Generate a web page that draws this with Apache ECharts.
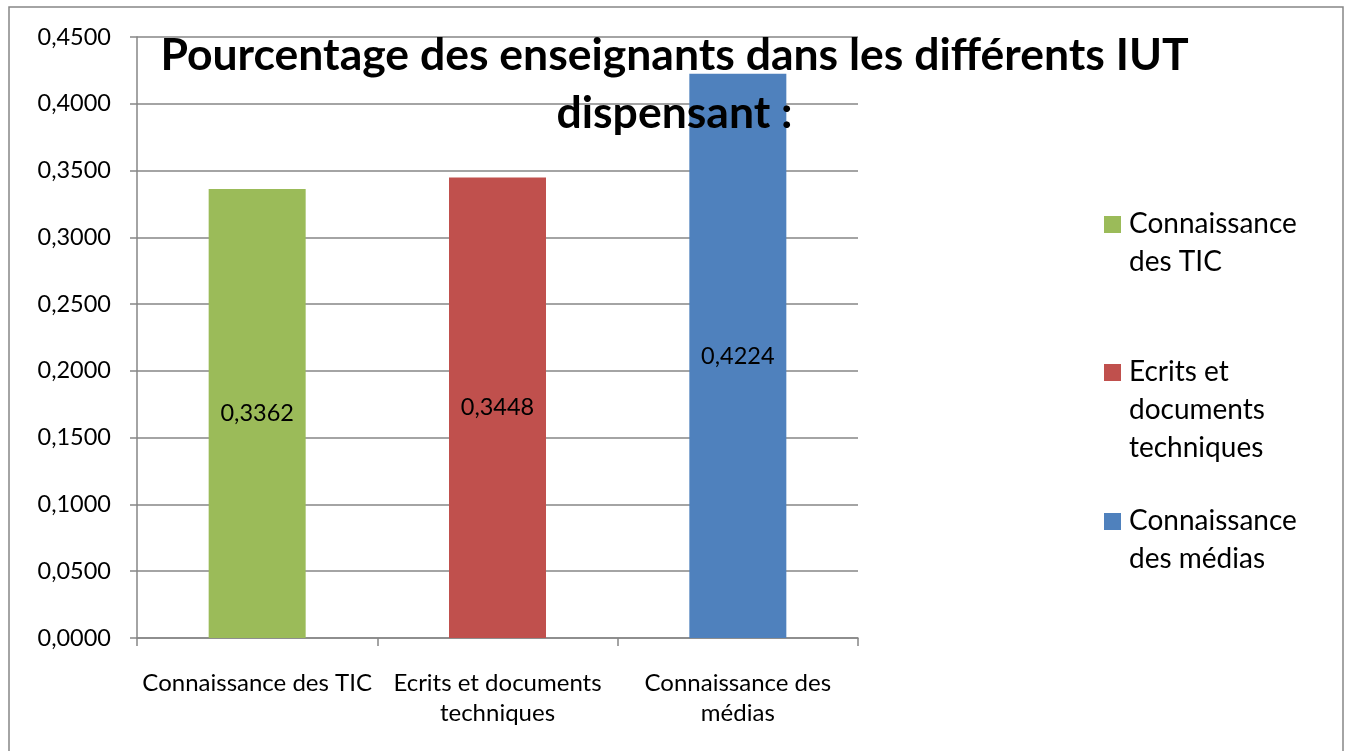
<!DOCTYPE html>
<html><head><meta charset="utf-8">
<script src="https://cdn.jsdelivr.net/npm/echarts@6/dist/echarts.min.js"></script>
<style>html,body{margin:0;padding:0;background:#fff}#c{width:1349px;height:751px}</style>
</head><body><div id="c"></div>
<script>
const categories = ['Connaissance des TIC', 'Ecrits et documents techniques', 'Connaissance des médias'];
const tickLabels = ['Connaissance des TIC', 'Ecrits et documents\ntechniques', 'Connaissance des\nmédias'];
const seriesNames = ['Connaissance des TIC', 'Ecrits et documents techniques', 'Connaissance des médias'];
const legendLabels = ['Connaissance\ndes TIC', 'Ecrits et\ndocuments\ntechniques', 'Connaissance\ndes médias'];
const values = [0.3362, 0.3448, 0.4224];
const colors = ['#9BBB59', '#C0504D', '#4F81BD'];
const titleText = 'Pourcentage des enseignants dans les différents IUT\ndispensant :';

const FONT = 'Lato';
const fmt = v => v.toFixed(4).replace('.', ',');

const series = seriesNames.map((name, i) => ({
  name,
  type: 'bar',
  barWidth: 97,
  barGap: '-100%',
  data: values.map((v, j) => (j === i ? v : '-')),
  itemStyle: { color: colors[i] },
  label: { show: true, position: 'inside', formatter: p => fmt(p.value), color: '#000', fontFamily: FONT, fontSize: 23.5 }
}));

const legendTops = [205, 353, 502];
const graphic = [{
  type: 'rect', shape: { x: 9, y: 7, width: 1334, height: 760 },
  style: { fill: 'none', stroke: '#868686', lineWidth: 1.5 }, silent: true, z: -1
}];
legendLabels.forEach((t, i) => {
  graphic.push({ type: 'rect', shape: { x: 1104, y: legendTops[i] + 11, width: 17, height: 17 }, style: { fill: colors[i] } });
  graphic.push({ type: 'text', x: 1129, y: legendTops[i], style: { text: t, font: '28px ' + FONT, fill: '#000', lineHeight: 38 } });
});

const chart = echarts.init(document.getElementById('c'));
chart.setOption({
  animation: false,
  backgroundColor: '#fff',
  title: { text: titleText, left: 'center', top: 22,
    textStyle: { fontFamily: FONT, fontWeight: 'bold', fontSize: 44.5, lineHeight: 58, color: '#000' } },
  grid: { left: 137, right: 491, top: 37, bottom: 113 },
  xAxis: { type: 'category', data: categories,
    axisLine: { lineStyle: { color: '#868686', width: 1.5 } },
    axisTick: { show: true, length: 8, lineStyle: { color: '#868686', width: 1.5 } },
    axisLabel: { formatter: (v, i) => tickLabels[i], interval: 0, margin: 30, fontFamily: FONT, fontSize: 24, lineHeight: 30, color: '#000' } },
  yAxis: { type: 'value', min: 0, max: 0.45, interval: 0.05,
    axisLine: { show: true, lineStyle: { color: '#868686', width: 1.5 } },
    axisTick: { show: true, length: 7, lineStyle: { color: '#868686', width: 1.5 } },
    splitLine: { lineStyle: { color: '#868686', width: 1.5 } },
    axisLabel: { formatter: fmt, margin: 26, fontFamily: FONT, fontSize: 23.5, color: '#000' } },
  series,
  graphic
});
</script></body></html>
